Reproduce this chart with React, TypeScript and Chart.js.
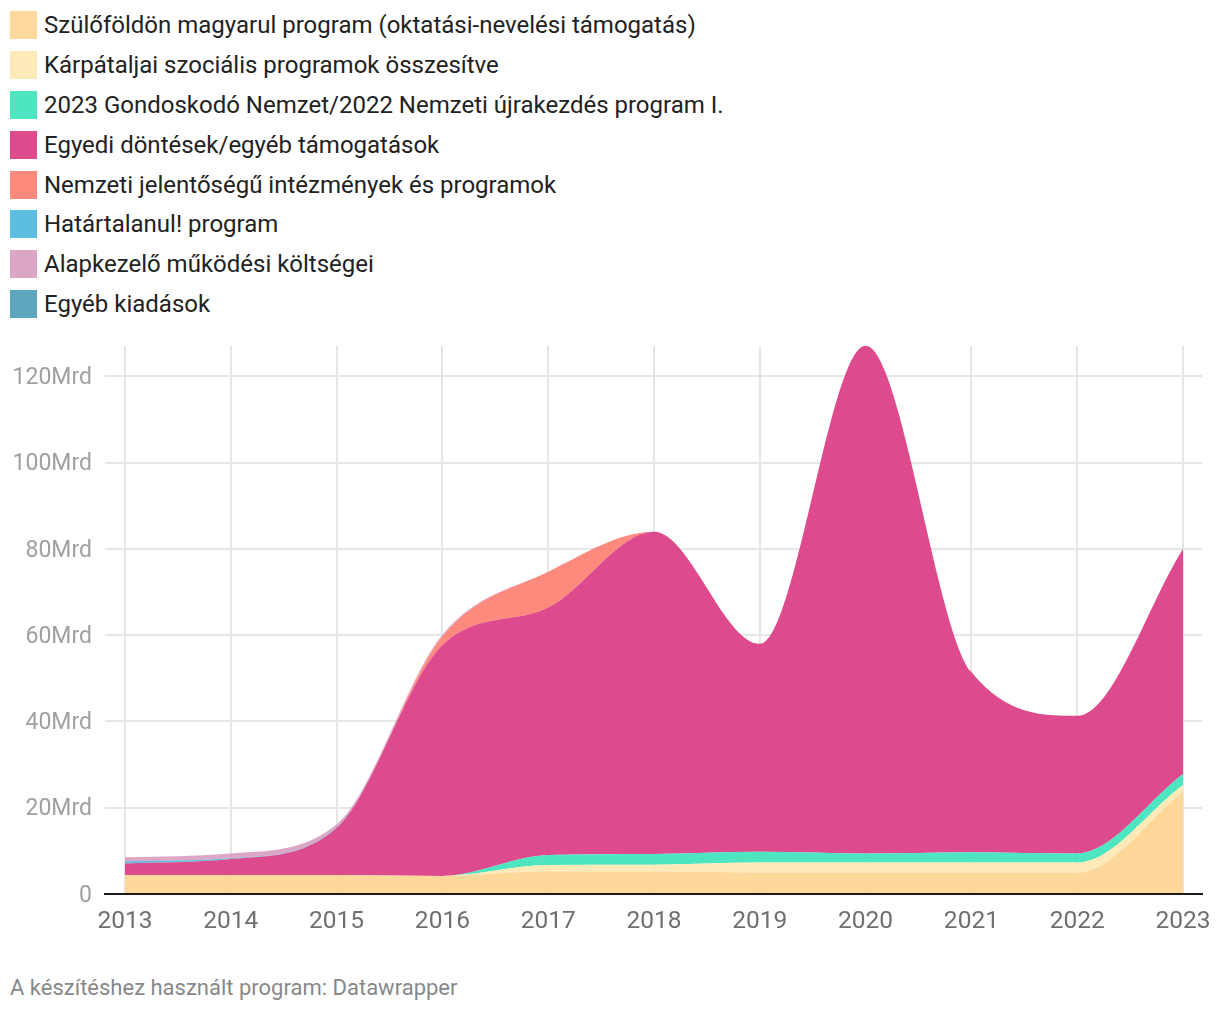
import React, { useEffect, useRef } from "react";
import { Chart, registerables } from "chart.js";

Chart.register(...registerables);

const years = ["2013", "2014", "2015", "2016", "2017", "2018", "2019", "2020", "2021", "2022", "2023"];

const szulofoldon = [4.4, 4.4, 4.4, 4.2, 5.3, 5.2, 5.0, 4.9, 4.9, 4.9, 23.7];
const karpataljai = [0, 0, 0, 0, 1.4, 1.6, 2.3, 2.4, 2.4, 2.4, 1.6];
const gondoskodo = [0, 0, 0, 0, 2.35, 2.5, 2.5, 2.1, 2.4, 2.1, 2.5];
const egyedi = [2.7, 3.7, 10.9, 53.5, 57.35, 74.7, 48.2, 117.7, 41.75, 31.9, 52.2];
const nemzeti = [0, 0, 0, 2.0, 8.3, 0, 0, 0, 0, 0, 0];
const hatartalanul = [0.5, 0.2, 0.1, 0, 0, 0, 0, 0, 0, 0, 0];
const alapkezelo = [0.9, 1.1, 0.7, 0.4, 0, 0, 0, 0, 0, 0, 0];
const egyeb = [0, 0, 0, 0, 0, 0, 0, 0, 0, 0, 0];

const seriesNames = [
  "Szülőföldön magyarul program (oktatási-nevelési támogatás)",
  "Kárpátaljai szociális programok összesítve",
  "2023 Gondoskodó Nemzet/2022 Nemzeti újrakezdés program I.",
  "Egyedi döntések/egyéb támogatások",
  "Nemzeti jelentőségű intézmények és programok",
  "Határtalanul! program",
  "Alapkezelő működési költségei",
  "Egyéb kiadások",
];
const seriesColors = ["#fed89c", "#fee9b8", "#4de6c1", "#dd4b8d", "#fd8b7d", "#5bbde0", "#dca7c7", "#5ea6c0"];
const seriesData = [szulofoldon, karpataljai, gondoskodo, egyedi, nemzeti, hatartalanul, alapkezelo, egyeb];

const yTicks = [0, 20, 40, 60, 80, 100, 120];
const yMax = 127.1;

const FONT = "Roboto, 'Noto Sans', sans-serif";

function fillColor(hex: string, a: number) {
  const r = parseInt(hex.slice(1, 3), 16);
  const g = parseInt(hex.slice(3, 5), 16);
  const b = parseInt(hex.slice(5, 7), 16);
  const f = (c: number) => Math.max(0, Math.min(255, Math.round((c - (1 - a) * 255) / a)));
  return `rgba(${f(r)},${f(g)},${f(b)},${a})`;
}

const gridPlugin = {
  id: "customGrid",
  beforeDatasetsDraw(chart: any) {
    const ctx = chart.ctx;
    const y = chart.scales.y;
    ctx.save();
    ctx.strokeStyle = "#e6e6e6";
    ctx.lineWidth = 2;
    yTicks.forEach((v) => {
      if (v === 0) return;
      const py = Math.round(y.getPixelForValue(v));
      ctx.beginPath();
      ctx.moveTo(105, py);
      ctx.lineTo(1202, py);
      ctx.stroke();
    });
    ctx.restore();
  },
  afterDatasetsDraw(chart: any) {
    const ctx = chart.ctx;
    const y = chart.scales.y;
    const py = Math.round(y.getPixelForValue(0));
    ctx.save();
    ctx.strokeStyle = "#1a1a1a";
    ctx.lineWidth = 2;
    ctx.beginPath();
    ctx.moveTo(104, py);
    ctx.lineTo(1203, py);
    ctx.stroke();
    ctx.restore();
  },
};

export default function App() {
  const ref = useRef<HTMLCanvasElement | null>(null);

  useEffect(() => {
    if (!ref.current) return;
    const chart = new Chart(ref.current, {
      type: "line",
      data: {
        labels: years,
        datasets: seriesData.map((d, i) => ({
          label: seriesNames[i],
          data: d,
          backgroundColor: fillColor(seriesColors[i], 0.92),
          borderColor: "rgba(0,0,0,0)",
          borderWidth: 0,
          pointRadius: 0,
          fill: i === 0 ? "origin" : "-1",
          cubicInterpolationMode: "monotone" as const,
          tension: 0.4,
        })),
      },
      options: {
        animation: false,
        responsive: false,
        devicePixelRatio: 1,
        layout: { padding: { left: 0, right: 37, top: 16, bottom: 0 } },
        plugins: { legend: { display: false }, tooltip: { enabled: false } },
        scales: {
          x: {
            type: "category",
            offset: false,
            grid: { display: true, color: "#e6e6e6", lineWidth: 2, drawTicks: false },
            border: { display: false },
            ticks: {
              color: "#6f6f6f",
              font: { family: FONT, size: 24.5 },
              padding: 13,
              maxRotation: 0,
              autoSkip: false,
            },
            afterFit: (s: any) => {
              s.height = 56;
              s.paddingLeft = 0;
              s.paddingRight = 0;
            },
          },
          y: {
            stacked: true,
            min: 0,
            max: yMax,
            grid: { display: false, drawTicks: false },
            border: { display: false },
            ticks: {
              stepSize: 20,
              includeBounds: false,
              color: "#a0a0a0",
              font: { family: FONT, size: 23 },
              padding: 33,
              labelOffset: 2,
              callback: (v: any) => (Number(v) === 0 ? "0" : `${v}Mrd`),
            },
            afterFit: (s: any) => {
              s.width = 125;
            },
          },
        },
      },
      plugins: [gridPlugin],
    });
    return () => chart.destroy();
  }, []);

  return (
    <div style={{ position: "absolute", left: 0, top: 0, width: 1220, height: 1012, background: "#fff", fontFamily: FONT }}>
      <div style={{ position: "absolute", left: 10, top: 5 }}>
        {seriesNames.map((n, i) => (
          <div key={n} style={{ display: "flex", alignItems: "center", height: 39.9 }}>
            <div style={{ width: 27, height: 28, background: seriesColors[i], marginRight: 7, flex: "none" }} />
            <span style={{ fontSize: 24, color: "#222", whiteSpace: "nowrap" }}>{n}</span>
          </div>
        ))}
      </div>
      <canvas ref={ref} width={1220} height={651} style={{ position: "absolute", left: 0, top: 299, width: 1220, height: 651 }} />
      <div style={{ position: "absolute", left: 10, top: 975, fontSize: 22, color: "#888", whiteSpace: "nowrap" }}>
        A készítéshez használt program: Datawrapper
      </div>
    </div>
  );
}
